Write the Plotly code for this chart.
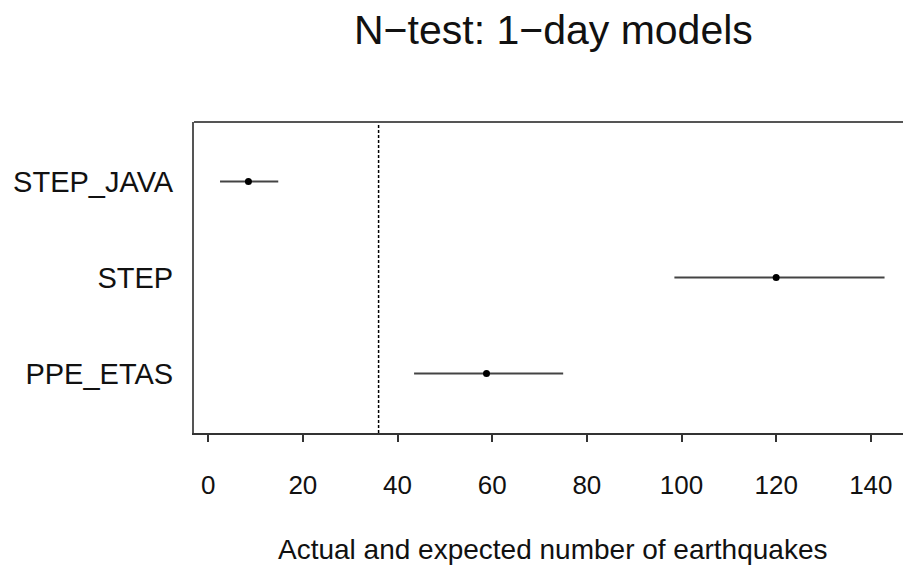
import plotly.graph_objects as go

# N-test summary for the 1-day forecast models
models = ["STEP_JAVA", "STEP", "PPE_ETAS"]
forecast_mean = [8.5, 120.0, 58.8]
forecast_low = [2.5, 98.5, 43.5]
forecast_high = [14.8, 142.9, 75.0]
observed_count = 36

x_ticks = [0, 20, 40, 60, 80, 100, 120, 140]

FONT = "Liberation Sans, Arial, Helvetica, sans-serif"
INK = "#111111"
BOX = "#555555"

err_plus = [h - m for h, m in zip(forecast_high, forecast_mean)]
err_minus = [m - l for m, l in zip(forecast_mean, forecast_low)]

fig = go.Figure()

fig.add_trace(go.Scatter(
    x=forecast_mean,
    y=models,
    mode="markers",
    marker=dict(color="black", size=7, symbol="circle"),
    error_x=dict(
        type="data",
        symmetric=False,
        array=err_plus,
        arrayminus=err_minus,
        color="#444444",
        thickness=2,
        width=0,
    ),
    showlegend=False,
    hoverinfo="x+y",
))

# observed number of events
fig.add_shape(
    type="line", xref="x", yref="paper",
    x0=observed_count, x1=observed_count, y0=0, y1=1,
    line=dict(color="black", width=1.5, dash="3px,2px"),
)

# top edge of the frame
fig.add_shape(
    type="line", xref="paper", yref="paper",
    x0=0, x1=1, y0=1, y1=1,
    line=dict(color=BOX, width=2),
)

fig.update_layout(
    width=903,
    height=566,
    margin=dict(l=194, r=0, t=122, b=133),
    paper_bgcolor="white",
    plot_bgcolor="white",
    font=dict(family=FONT, color=INK),
    xaxis=dict(
        range=[-3.0, 146.8],
        tickmode="array",
        tickvals=x_ticks,
        ticktext=[str(v) for v in x_ticks],
        ticks="outside",
        ticklen=7,
        tickwidth=2,
        tickcolor="#333333",
        showline=True,
        linecolor="#333333",
        linewidth=2,
        showgrid=False,
        zeroline=False,
        tickfont=dict(size=26, family=FONT, color=INK),
        ticklabelstandoff=21,
    ),
    yaxis=dict(
        type="category",
        categoryorder="array",
        categoryarray=models[::-1],
        range=[-0.62, 2.62],
        ticks="",
        showline=True,
        linecolor=BOX,
        linewidth=2,
        showgrid=False,
        zeroline=False,
        tickfont=dict(size=29, family=FONT, color=INK),
        ticklabelstandoff=13,
    ),
    annotations=[
        dict(
            text="N\u2212test: 1\u2212day models",
            xref="paper", yref="paper",
            x=(553 - 194) / 709, y=(433 - 55) / 311,
            xanchor="center", yanchor="bottom",
            showarrow=False,
            font=dict(size=41, family=FONT, color=INK),
        ),
        dict(
            text="Actual and expected number of earthquakes",
            xref="paper", yref="paper",
            x=(552 - 194) / 709, y=(433 - 567) / 311,
            xanchor="center", yanchor="bottom",
            showarrow=False,
            font=dict(size=28, family=FONT, color=INK),
        ),
    ],
)

fig.write_html("out.html")
